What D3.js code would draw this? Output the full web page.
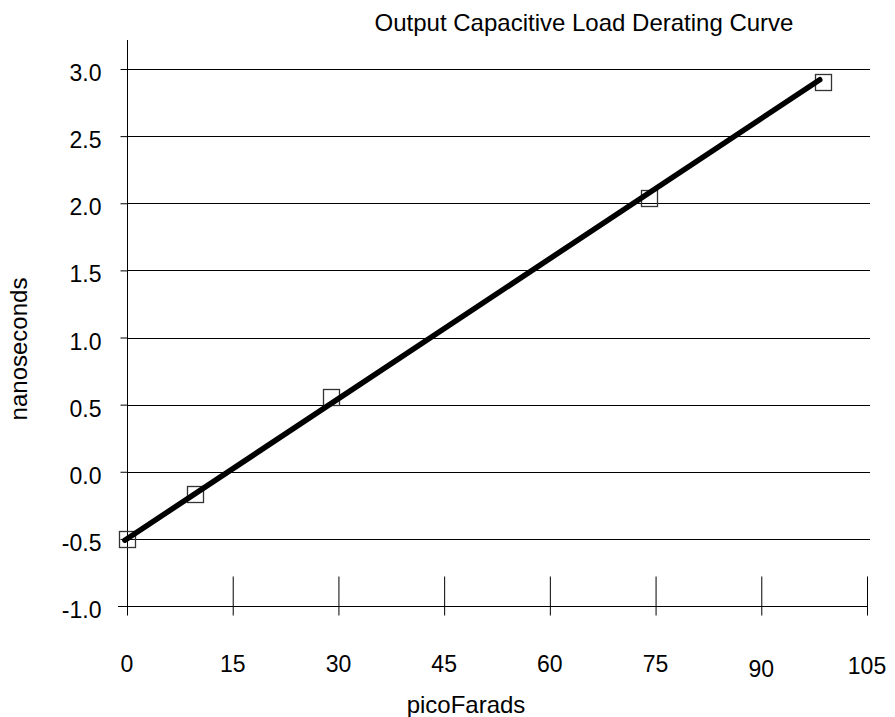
<!DOCTYPE html>
<html>
<head>
<meta charset="utf-8">
<script src="https://cdn.jsdelivr.net/npm/d3@7"></script>
<style>
  html, body { margin: 0; padding: 0; background: #fff; }
  svg { display: block; }
  text { font-family: "Liberation Sans", Arial, sans-serif; fill: #000; }
</style>
</head>
<body>
<svg id="chart" width="895" height="717"></svg>
<script>
// ---- data ----
const title = "Output Capacitive Load Derating Curve";
const xLabel = "picoFarads";
const yLabel = "nanoseconds";
const pointX = [0, 9.6, 28.9, 74.1, 98.8];
const pointY = [-0.5, -0.166, 0.559, 2.037, 2.90];
const fitX = [-0.3, 98.3];
const fitY = [-0.51, 2.92];
const xTicks = [0, 15, 30, 45, 60, 75, 90, 105];
const yTicks = [-1.0, -0.5, 0.0, 0.5, 1.0, 1.5, 2.0, 2.5, 3.0];

// ---- layout ----
const svg = d3.select("#chart");
const x = d3.scaleLinear().domain([0, 105]).range([127, 867]);
const y = d3.scaleLinear().domain([-1.0, 3.0]).range([606, 69]);
const axisY = y(-1.0);
const topY = 40;

// gridlines
svg.append("g").selectAll("line")
  .data(yTicks.filter(d => d !== -1.0))
  .join("line")
  .attr("x1", x(0)).attr("x2", 870)
  .attr("y1", d => Math.round(y(d)) + 0.5).attr("y2", d => Math.round(y(d)) + 0.5)
  .attr("stroke", "#000").attr("stroke-width", 1);

// y axis
const yAxis = svg.append("g")
  .attr("transform", `translate(${x(0) + 0.5},0)`)
  .call(d3.axisLeft(y).tickValues(yTicks).tickSize(7).tickPadding(19)
    .tickFormat(d => d.toFixed(1)));
yAxis.select(".domain").remove();
yAxis.selectAll(".tick line").attr("stroke", "#000");
yAxis.selectAll(".tick text")
  .attr("dy", "0.5em")
  .style("font-size", "23px")
  .style("font-family", '"Liberation Sans", Arial, sans-serif');
svg.append("line")
  .attr("x1", x(0) + 0.5).attr("x2", x(0) + 0.5)
  .attr("y1", topY).attr("y2", axisY + 9)
  .attr("stroke", "#000");

// x axis
const labelShift = {90: 4.5, 105: 1.5};
svg.append("line")
  .attr("x1", 118).attr("x2", 868)
  .attr("y1", Math.round(axisY) + 0.5).attr("y2", Math.round(axisY) + 0.5)
  .attr("stroke", "#000");
const xAxis = svg.append("g")
  .attr("transform", `translate(0,${Math.round(axisY) + 0.5})`)
  .call(d3.axisBottom(x).tickValues(xTicks).tickSize(9).tickFormat(""));
xAxis.select(".domain").remove();
xAxis.selectAll(".tick line").attr("y1", d => d === 0 ? 0 : -30).attr("stroke", "#000");
svg.append("g").selectAll("text")
  .data(xTicks)
  .join("text")
  .attr("x", d => x(d))
  .attr("y", d => axisY + 66 + (labelShift[d] || 0))
  .attr("text-anchor", "middle")
  .style("font-size", "23px")
  .text(d => d);

// markers
const line = d3.line().x(d => x(d[0])).y(d => y(d[1]));
svg.append("g").selectAll("rect")
  .data(pointX.map((v, i) => [v, pointY[i]]))
  .join("rect")
  .attr("x", d => Math.round(x(d[0])) - 8 + 0.5)
  .attr("y", d => Math.round(y(d[1])) - 8 + 0.5)
  .attr("width", 16).attr("height", 16)
  .attr("fill", "none").attr("stroke", "#333").attr("stroke-width", 1.3);
// fit line
svg.append("path")
  .datum(fitX.map((v, i) => [v, fitY[i]]))
  .attr("d", line)
  .attr("fill", "none").attr("stroke", "#000").attr("stroke-width", 5.5)
  .attr("stroke-linecap", "round");

// titles
svg.append("text")
  .attr("x", 584).attr("y", 31)
  .attr("text-anchor", "middle")
  .style("font-size", "24px")
  .text(title);
svg.append("text")
  .attr("x", 466).attr("y", 713)
  .attr("text-anchor", "middle")
  .style("font-size", "24px")
  .text(xLabel);
svg.append("text")
  .attr("transform", "translate(27,349) rotate(-90)")
  .attr("text-anchor", "middle")
  .style("font-size", "24px")
  .text(yLabel);
</script>
</body>
</html>
